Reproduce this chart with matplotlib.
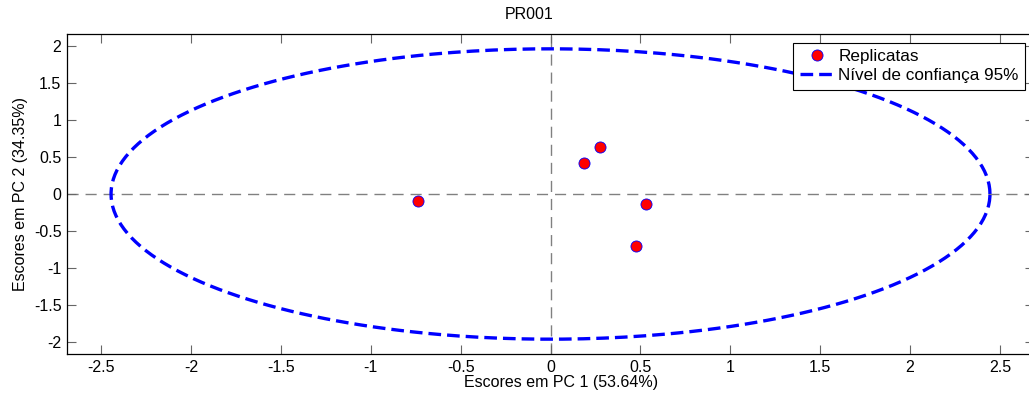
import numpy as np
import matplotlib
matplotlib.use("Agg")
import matplotlib.pyplot as plt

# PCA scores of the replicates
pc1 = [-0.737, 0.189, 0.278, 0.532, 0.476]
pc2 = [-0.098, 0.422, 0.630, -0.135, -0.700]

# 95% confidence ellipse (semi-axes)
ell_a = 2.445
ell_b = 1.96

xticks = [-2.5, -2, -1.5, -1, -0.5, 0, 0.5, 1, 1.5, 2, 2.5]
yticks = [-2, -1.5, -1, -0.5, 0, 0.5, 1, 1.5, 2]

FS = 11.5
plt.rcParams["font.family"] = ["Liberation Sans", "DejaVu Sans"]
plt.rcParams["font.size"] = FS

fig = plt.figure(figsize=(10.29, 4.0), dpi=100)
ax = fig.add_axes([67 / 1029, 46 / 400, 967 / 1029, 320 / 400])

# crosshair through the origin
ax.axhline(0, color="#808080", lw=1, dashes=(8, 5), zorder=1)
ax.axvline(0, color="#808080", lw=1, dashes=(8, 5), zorder=1)

t = np.linspace(0, 2 * np.pi, 400)
ax.plot(ell_a * np.cos(t), ell_b * np.sin(t), color="#0000ff", lw=2.4,
        dashes=(3.8, 1.8), zorder=2, label="Nível de confiança 95%")
ax.plot(pc1, pc2, "o", ms=8, mfc="#ff0000", mec="#0000ff", mew=0.6,
        ls="none", zorder=3, label="Replicatas")

ax.set_xlim(-2.69, 2.69)
ax.set_ylim(-2.16, 2.16)
ax.set_xticks(xticks)
ax.set_xticklabels([f"{v:g}" for v in xticks])
ax.set_yticks(yticks)
ax.set_yticklabels([f"{v:g}" for v in yticks])
ax.tick_params(direction="in", length=6.5, width=0.8, color="#666666",
               top=True, right=True, labelsize=FS, pad=4)
for s in ax.spines.values():
    s.set_linewidth(0.9)

ax.set_xlabel("Escores em PC 1 (53.64%)", fontsize=FS, labelpad=0, x=0.511)
ax.set_ylabel("Escores em PC 2 (34.35%)", fontsize=FS, labelpad=4)
ax.set_title("PR001", fontsize=FS, x=0.478, pad=11)

h, l = ax.get_legend_handles_labels()
leg = ax.legend(h[::-1], l[::-1], loc="upper right", fontsize=12.3,
                frameon=True, fancybox=False, framealpha=1,
                edgecolor="black", borderaxespad=0.5, handlelength=2.0,
                handletextpad=0.25, borderpad=0.4, labelspacing=0.2)
leg.get_frame().set_linewidth(0.8)

fig.savefig("out.png", dpi=100)
